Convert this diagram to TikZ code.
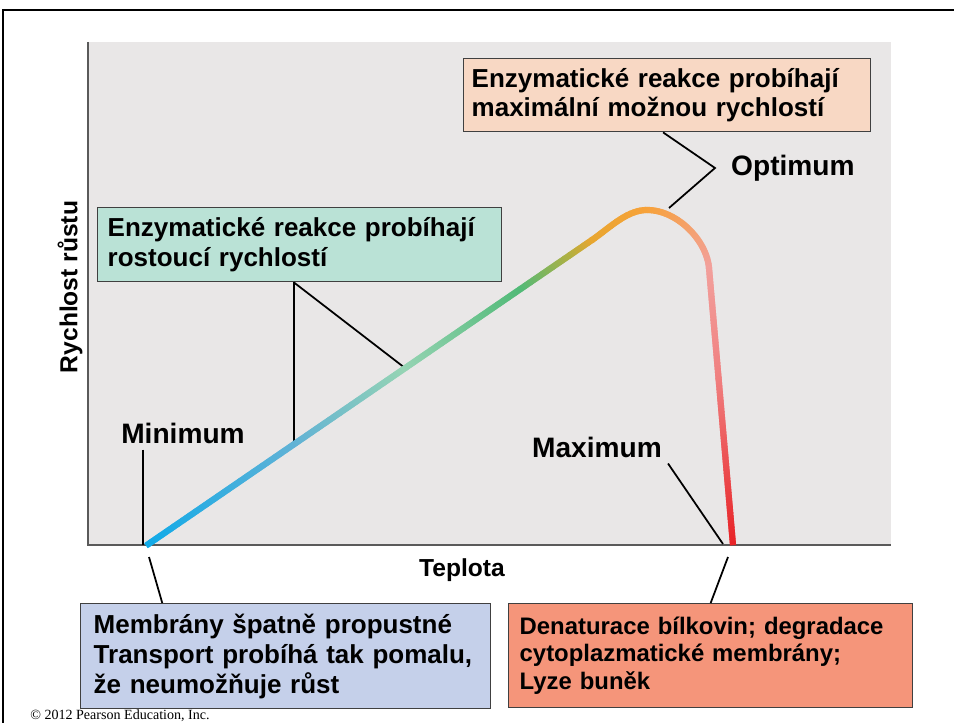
\documentclass[tikz,border=0pt]{standalone}
\usepackage{fontspec}
\setmainfont{Liberation Sans}
\newfontfamily\pearsonfont{Liberation Serif}
\usepackage{tikz}
\usetikzlibrary{calc}
\usetikzlibrary{positioning}
\usetikzlibrary{decorations.markings}

\definecolor{plotgray}{RGB}{233,231,231}
\definecolor{axisgray}{RGB}{90,90,90}
\definecolor{boxblue}{RGB}{197,208,234}
\definecolor{boxteal}{RGB}{186,226,214}
\definecolor{boxpeach}{RGB}{248,216,196}
\definecolor{boxsalmon}{RGB}{245,149,122}
\definecolor{cBlue}{RGB}{16,170,232}
\definecolor{cSteel}{RGB}{96,178,214}
\definecolor{cMint}{RGB}{150,212,180}
\definecolor{cGreen}{RGB}{82,186,120}
\definecolor{cOlive}{RGB}{176,176,66}
\definecolor{cAmber}{RGB}{232,166,48}
\definecolor{cOrange}{RGB}{247,162,58}
\definecolor{cPink}{RGB}{242,160,156}
\definecolor{cRose}{RGB}{240,128,128}
\definecolor{cRed}{RGB}{232,36,40}

\newcommand{\calloutfont}{\bfseries\fontsize{14.8pt}{17pt}\selectfont}
\newcommand{\denatfont}{\bfseries\fontsize{13.6pt}{15.4pt}\selectfont}

\begin{document}
\begin{tikzpicture}[x=0.02cm,y=-0.02cm]
              \tikzset{>=latex}
              \tikzstyle{callout}=[draw=black!75,line width=0.8pt,anchor=north west,align=left]
              \tikzstyle{lead}=[black,line width=1pt]
              \tikzstyle{axis}=[axisgray,line width=1.2pt]
              \tikzstyle{bigword}=[font=\bfseries\fontsize{16pt}{19pt}\selectfont]
              \tikzstyle{axword}=[font=\bfseries\fontsize{14pt}{17pt}\selectfont]
              \tikzset{gradpiece/.style 2 args={postaction={decorate,decoration={markings,
                mark=between positions 0 and 1 step 0.8pt with {
                  \pgfmathtruncatemacro\gp{max(0,min(100,100-100*\pgfkeysvalueof{/pgf/decoration/mark info/distance from start}/\pgfdecoratedpathlength))}
                  \draw[line width=3.5pt,color=#1!\gp!#2] (-0.7pt,0) -- (0.7pt,0);}}}}}

              % FRAME AND PLOT AREA
              \useasboundingbox (0,0) rectangle (954,723);
              \fill[plotgray] (88,42) rectangle (891,545);
              \draw[line width=1.7pt] (954,10) -- (3,10) -- (3,723);
              \draw[axis] (88,42) -- (88,545) -- (891,545);

              % CURVE POINTS
              \coordinate (S) at (147,545);
              \coordinate (A) at (592,240);
              \coordinate (P) at (647,210);
              \coordinate (Q) at (709,268);
              \coordinate (E) at (733,545);
              \coordinate (B1) at ($(S)!0.33!(A)$);
              \coordinate (B2) at ($(S)!0.58!(A)$);
              \coordinate (B3) at ($(S)!0.84!(A)$);
              \coordinate (B4) at ($(S)!0.95!(A)$);
              \coordinate (Q2) at ($(Q)!0.4!(E)$);

              % BOXES
              \node[callout,fill=boxteal,minimum width=8.08cm,minimum height=1.48cm,text width=7.68cm,inner xsep=0.2cm,font=\calloutfont]
              (risebox) at (97,207) {Enzymatické reakce probíhají\\rostoucí rychlostí};
              \node[callout,fill=boxpeach,minimum width=8.14cm,minimum height=1.46cm,text width=7.82cm,inner xsep=0.16cm,font=\calloutfont]
              (topbox) at (463,58) {Enzymatické reakce probíhají\\maximální možnou rychlostí};
              \node[callout,fill=boxblue,minimum width=8.2cm,minimum height=2.1cm,text width=7.68cm,inner xsep=0.26cm,font=\calloutfont]
              (lowbox) at (80,603) {Membrány špatně propustné\\Transport probíhá tak pomalu,\\že neumožňuje růst};
              \node[callout,fill=boxsalmon,minimum width=8.08cm,minimum height=2.08cm,text width=7.64cm,inner xsep=0.22cm,font=\denatfont]
              (highbox) at (508,603) {Denaturace bílkovin; degradace\\cytoplazmatické membrány;\\Lyze buněk};

              % LABELS
              \node[bigword] (mini) at (183,433) {Minimum};
              \node[bigword] (maxi) at (597,447) {Maximum};
              \node[bigword,anchor=west] (opti) at (725,168) {Optimum};
              \node[axword] (temp) at (462,570) {Teplota};
              \node[axword,rotate=90] (rate) at (70,287) {Rychlost růstu};
              \node[anchor=west,inner sep=0pt,font=\pearsonfont\fontsize{8pt}{9pt}\selectfont] (copy) at (30,716) {© 2012 Pearson Education, Inc.};

              % LEADS
              \coordinate (minfoot) at (143,545);
              \coordinate (mintick) at (149,557);
              \coordinate (maxfoot) at (723,544);
              \coordinate (maxtick) at (728,557);
              \coordinate (optknee) at (715,168);
              \coordinate (optfoot) at (669,208);
              \draw[lead] (minfoot |- mini.south) -- (minfoot);
              \draw[lead] (mintick) -- ($(lowbox.north west)!0.2!(lowbox.north east)$);
              \draw[lead] (maxi.south east) -- (maxfoot);
              \draw[lead] (maxtick) -- ($(highbox.north west)!0.5!(highbox.north east)$);
              \draw[lead] (risebox.south -| B1) -- (B1);
              \draw[lead] (risebox.south -| B1) -- (B2);
              \draw[lead] ($(topbox.south west)!0.49!(topbox.south east)$) -- (optknee) -- (optfoot);

              % GRADIENT CURVE
              \path[gradpiece={cBlue}{cSteel}] (S) -- (B1);
              \path[gradpiece={cSteel}{cMint}] (B1) -- (B2);
              \path[gradpiece={cMint}{cGreen}] (B2) -- (B3);
              \path[gradpiece={cGreen}{cOlive}] (B3) -- (B4);
              \path[gradpiece={cOlive}{cAmber}] (B4) -- (A);
              \path[gradpiece={cAmber}{cOrange}] (A) .. controls (610,227.5) and (627,210) .. (P);
              \path[gradpiece={cOrange}{cPink}] (P) .. controls (677,210) and (706.6,240.1) .. (Q);
              \path[gradpiece={cPink}{cRose}] (Q) -- (Q2);
              \path[gradpiece={cRose}{cRed}] (Q2) -- (E);
            \end{tikzpicture}
\end{document}
